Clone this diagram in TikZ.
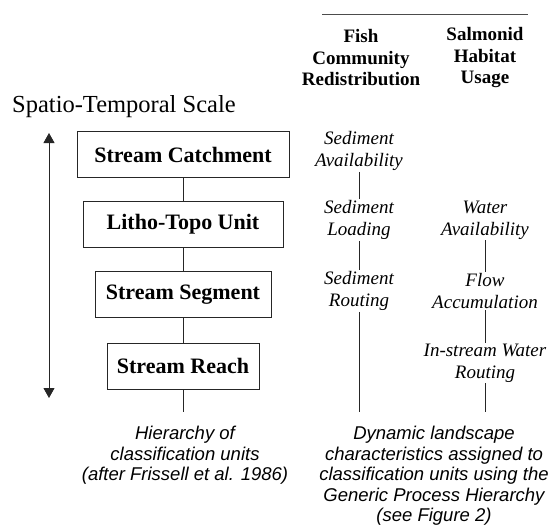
\documentclass[tikz,border=0pt]{standalone}
\usepackage{fontspec}
\setmainfont{Liberation Serif}
\newfontfamily\arialfont{Liberation Sans}
\usetikzlibrary{arrows.meta}
\tikzset{
  unitbox/.style={draw=black!85, line width=0.9pt, minimum height=46pt, inner sep=0pt, font=\fontsize{22}{24}\selectfont\bfseries},
  process/.style={align=center, inner sep=1pt, font=\fontsize{19}{22}\selectfont\itshape},
  colhead/.style={align=center, inner sep=0pt, font=\fontsize{19}{21.5}\selectfont\bfseries},
  caption/.style={align=center, inner sep=0pt, font=\arialfont\itshape\fontsize{18.5}{20.5}\selectfont},
  link/.style={draw=black!85, line width=0.9pt}
}

\begin{document}
\begin{tikzpicture}[x=1pt,y=-1pt]
\useasboundingbox (0,0) rectangle (555,531);
% headings of the two process columns
\coordinate (ruleL) at (322,14);
\coordinate (ruleR) at (528,14);
\draw [black!70, line width=1pt] (ruleL) -- (ruleR);
\node [colhead] (fishhead) at (361,58) {Fish\\Community\\Redistribution};
\node [colhead] (salmhead) at (485,58) {Salmonid\\Habitat\\Usage};
\node [anchor=base west, inner sep=0pt, font=\fontsize{24.5}{28}\selectfont] (scale) at (12,112) {Spatio-Temporal Scale};
% scale arrow
\coordinate (scaletop) at (49,133);
\coordinate (scalebot) at (49,398);
\draw [link, {Triangle[length=10pt,width=11pt]}-{Triangle[length=10pt,width=11pt]}] (scalebot) -- (scaletop);
% hierarchy of classification units
\node [unitbox, minimum width=212pt] (catch) at (183,154.5) {Stream Catchment};
\node [unitbox, minimum width=200pt] (litho) at (183,224) {Litho-Topo Unit};
\node [unitbox, minimum width=176pt] (segment) at (183,294.5) {Stream Segment};
\node [unitbox, minimum width=152pt] (reach) at (183,366) {Stream Reach};
\coordinate (hierend) at (183,412);
\draw [link] (catch) -- (litho) -- (segment) -- (reach) -- (hierend);
% fish community column
\node [process] (sedavail) at (359,151) {Sediment\\Availability};
\node [process] (sedload) at (359,220) {Sediment\\Loading};
\node [process] (sedrout) at (359,291) {Sediment\\Routing};
\coordinate (sedend) at (359,412);
\draw [link] (sedavail) -- (sedload) -- (sedrout) -- (sedend);
% salmonid habitat column
\node [process] (watavail) at (485,220) {Water\\Availability};
\node [process] (flowacc) at (485,291) {Flow\\Accumulation};
\node [process] (instream) at (485,363) {In-stream Water\\Routing};
\coordinate (watend) at (485,412);
\draw [link] (watavail) -- (flowacc) -- (instream) -- (watend);
% captions
\node [caption] (hiercap) at (185,455.5) {Hierarchy of\\classification units\\(after Frissell et al. 1986)};
\node [caption] (proccap) at (434,476) {Dynamic landscape\\characteristics assigned to\\classification units using the\\Generic Process Hierarchy\\(see Figure 2)};
\end{tikzpicture}
\end{document}
